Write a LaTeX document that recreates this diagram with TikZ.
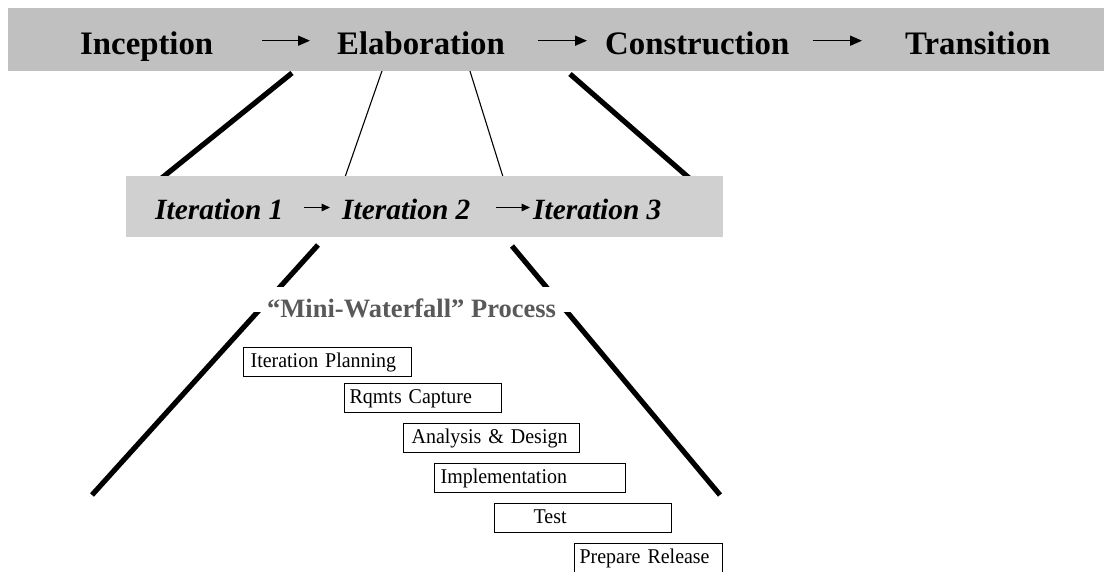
\documentclass[tikz,border=0pt]{standalone}
\usepackage{fontspec}
\setmainfont{Liberation Serif}
\newfontfamily\stagefont{Liberation Serif}[FakeStretch=0.95]
\usetikzlibrary{arrows.meta}
\definecolor{phasegray}{RGB}{192,192,192}
\definecolor{itergray}{RGB}{208,208,208}
\definecolor{titlegray}{RGB}{89,89,89}
\begin{document}
\begin{tikzpicture}[x=1pt,y=-1pt,
  bar/.style={inner sep=0pt, anchor=north west, draw=none},
  phase/.style={anchor=base west, inner sep=0pt,
    font=\bfseries\fontsize{32.8}{36}\selectfont},
  iter/.style={anchor=base west, inner sep=0pt,
    font=\bfseries\itshape\fontsize{29.4}{32}\selectfont},
  phasearrow/.style={line width=1.6pt, -{Triangle[length=12pt,width=10pt]}},
  iterarrow/.style={line width=1.5pt, -{Triangle[length=8.5pt,width=7.5pt]}},
  zoomthick/.style={line width=5.2pt},
  zoomthin/.style={line width=1.1pt},
  stagebox/.style={draw, line width=1.3pt, anchor=north west, inner xsep=0pt,
    inner ysep=0pt, minimum height=29pt, align=left, text height=14.5pt,
    text depth=3.5pt, font=\stagefont\fontsize{21}{23}\selectfont},
]
\useasboundingbox (0,0) rectangle (1104,572);
\clip (0,0) rectangle (1104,572);

% zoom lines: phases -> iterations -> mini-waterfall
\coordinate (l1a) at (292,73);    \coordinate (l1b) at (156.8,182);
\coordinate (l2a) at (570,74);    \coordinate (l2b) at (693.7,182);
\coordinate (t1a) at (383.7,66);  \coordinate (t1b) at (343.3,182);
\coordinate (t2a) at (468.4,66);  \coordinate (t2b) at (504.6,182);
\coordinate (l3a) at (318,245);   \coordinate (l3b) at (92,495);
\coordinate (l4a) at (512,246);   \coordinate (l4b) at (720,495);
\draw[zoomthick] (l1a) -- (l1b);
\draw[zoomthick] (l2a) -- (l2b);
\draw[zoomthin]  (t1a) -- (t1b);
\draw[zoomthin]  (t2a) -- (t2b);
\draw[zoomthick] (l3a) -- (l3b);
\draw[zoomthick] (l4a) -- (l4b);

% phase bar
\node[bar, fill=phasegray, minimum width=1096pt, minimum height=63pt] (phasebar) at (8,8) {};
\node[phase] (inc) at (80,55)  {Inception};
\node[phase] (ela) at (337,55) {Elaboration};
\node[phase] (con) at (605,55) {Construction};
\node[phase] (tra) at (905,55) {Transition};
\draw[phasearrow, shorten <=49pt, shorten >=27pt]
  ([yshift=14.3pt]inc.base east) -- ([yshift=14.3pt]ela.base west);
\draw[phasearrow, shorten <=33pt, shorten >=18pt]
  ([yshift=14.3pt]ela.base east) -- ([yshift=14.3pt]con.base west);
\draw[phasearrow, shorten <=24pt, shorten >=43pt]
  ([yshift=14.3pt]con.base east) -- ([yshift=14.3pt]tra.base west);

% iteration bar
\node[bar, fill=itergray, minimum width=597pt, minimum height=61pt] (iterbar) at (126,176) {};
\node[iter] (it1) at (155,220) {Iteration 1};
\node[iter] (it2) at (342,220) {Iteration 2};
\node[iter] (it3) at (533,220) {Iteration 3};
\draw[iterarrow, shorten <=20pt, shorten >=12pt]
  ([yshift=12.5pt]it1.base east) -- ([yshift=12.5pt]it2.base west);
\draw[iterarrow, shorten <=25pt, shorten >=3pt]
  ([yshift=12.5pt]it2.base east) -- ([yshift=12.5pt]it3.base west);

% mini-waterfall title
\node[bar, fill=white, minimum width=326pt, minimum height=25pt] (mwbg) at (248,287) {};
\node[anchor=base west, inner sep=0pt, text=titlegray,
  font=\bfseries\fontsize{26.5}{30}\selectfont] (mw) at (267,317) {“Mini-Waterfall” Process};

% waterfall stages
\node[stagebox, text width=168pt] (ip) at (243,347) {\hspace*{7pt}Iteration Planning};
\node[stagebox, text width=157pt] (rq) at (344,383) {\hspace*{5pt}Rqmts Capture};
\node[stagebox, text width=176pt] (ad) at (403,423) {\hspace*{8pt}Analysis \& Design};
\node[stagebox, text width=191pt] (im) at (434,463) {\hspace*{6pt}Implementation};
\node[stagebox, text width=177pt] (te) at (494,503) {\hspace*{39pt}Test};
\node[stagebox, text width=148pt] (pr) at (574,543) {\hspace*{5pt}Prepare Release};
\end{tikzpicture}
\end{document}
